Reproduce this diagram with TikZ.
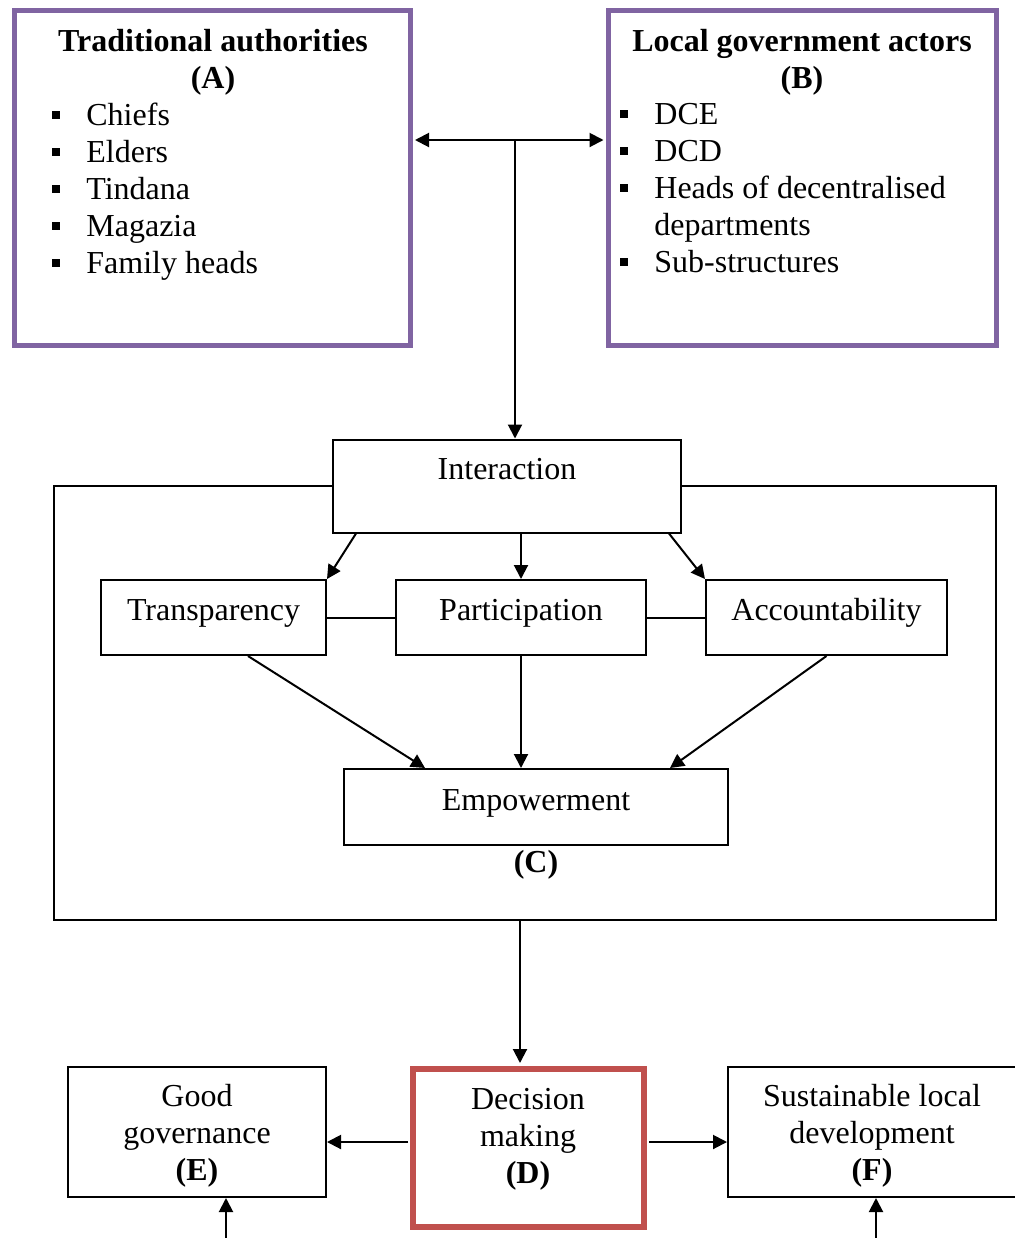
\documentclass[tikz,border=0pt]{standalone}
\usepackage{fontspec}
\setmainfont{Liberation Serif}
\usetikzlibrary{arrows.meta,calc}
\definecolor{actorpurple}{RGB}{128,100,162}
\definecolor{decisionred}{RGB}{192,80,77}
\newcommand{\sqitem}{\makebox[17pt][l]{\rule[3.5pt]{4pt}{4pt}}}
\newcommand{\sqskip}{\makebox[17pt][l]{}}
\begin{document}
\begin{tikzpicture}[
    x=0.5pt, y=-0.5pt,
    font=\fontsize{16}{18.5}\selectfont,
    >={Triangle[length=7pt,width=7pt]},
    actor/.style={
      draw=actorpurple,
      line width=2.5pt,
      minimum height=167.5pt
    },
    factor/.style={
      draw,
      line width=1pt,
      fill=white,
      text height=10.6pt,
      text depth=8pt,
      minimum height=37.5pt
    },
    outcome/.style={
      draw,
      line width=1pt,
      minimum height=65pt
    },
    blocktext/.style={
      inner sep=0pt,
      align=center
    },
    listtext/.style={
      inner sep=0pt,
      align=left,
      anchor=north west
    }
  ]
    \useasboundingbox (0,0) rectangle (1015,1238);

    % actors
    \node[actor, minimum width=197.75pt] (trad) at (212.25,177.5) {};
    \node[actor, minimum width=193.75pt] (local) at (802.25,177.5) {};
    \node[blocktext, font=\fontsize{16}{18.5}\selectfont\bfseries] (tradtitle) at (213,62.5) {Traditional authorities\\(A)};
    \node[blocktext, font=\fontsize{16}{18.5}\selectfont\bfseries] (localtitle) at (802,62.5) {Local government actors\\(B)};
    \node[listtext] (tradlist) at (52,103) {\sqitem Chiefs\\\sqitem Elders\\\sqitem Tindana\\\sqitem Magazia\\\sqitem Family heads};
    \node[listtext] (locallist) at (620,103) {\sqitem DCE\\\sqitem DCD\\\sqitem Heads of decentralised\\\sqskip departments\\\sqitem Sub-structures};

    % process (C)
    \node[draw, line width=1pt, minimum width=471pt, minimum height=217pt] (process) at (525,703) {};
    \node[factor, minimum width=174pt, minimum height=46.5pt, text depth=17.6pt] (interaction) at (507,486) {Interaction};
    \node[factor, minimum width=112.5pt] (transp) at (213.5,617.5) {Transparency\hspace{4pt}};
    \node[factor, minimum width=125pt] (partic) at (521,617.5) {Participation};
    \node[factor, minimum width=120.5pt] (account) at (826.5,617.5) {Accountability\hspace{5pt}};
    \node[factor, minimum width=192pt, minimum height=38pt, text depth=7.6pt] (empower) at (536,807) {Empowerment};
    \node[blocktext, font=\fontsize{16}{18.5}\selectfont\bfseries] (clabel) at (536,865) {(C)};

    % outcomes
    \node[draw=decisionred, line width=3pt, minimum width=115.5pt, minimum height=79pt] (decision) at (528.5,1148) {};
    \node[outcome, minimum width=129pt] (good) at (197,1132) {};
    \node[outcome, minimum width=144pt] (sustain) at (872,1132) {};
    \node[blocktext] (decisiontext) at (528,1139) {Decision\\making\\\textbf{(D)}};
    \node[blocktext] (goodtext) at (197,1136) {Good\\governance\\\textbf{(E)}};
    \node[blocktext] (sustaintext) at (872,1136) {Sustainable local\\development\\\textbf{(F)}};

    \coordinate (split) at (515,140);
    \coordinate (dleft) at ([yshift=3pt]decision.west);
    \coordinate (dright) at ([yshift=3pt]decision.east);
    \coordinate (goodin) at (226,1250);
    \coordinate (sustainin) at (876,1250);

    \path[line width=1pt]
      (trad.east |- split) edge[<->, shorten <=1.25pt, shorten >=1.25pt] (local.west |- split)
      (split) edge[->] (split |- interaction.north)
      ([xshift=12pt]interaction.south west) edge[->] (transp.north east)
      (partic.north |- interaction.south) edge[->] (partic.north)
      ([xshift=-6.5pt]interaction.south east) edge[->] (account.north west)
      (transp.east) edge (partic.west)
      (partic.east) edge (account.west)
      ([xshift=17.25pt]transp.south) edge[->] ([xshift=-55.5pt]empower.north)
      (partic.south) edge[->] (partic.south |- empower.north)
      (account.south) edge[->] ([xshift=67pt]empower.north)
      ([xshift=-2.5pt]process.south) edge[->, shorten >=1.5pt] ([xshift=-2.5pt]process.south |- decision.north)
      (dleft) edge[->, shorten <=1pt] (dleft -| good.east)
      (dright) edge[->, shorten <=1pt] (dright -| sustain.west)
      (goodin) edge[->] (goodin |- good.south)
      (sustainin) edge[->] (sustainin |- sustain.south);
  \end{tikzpicture}
\end{document}
